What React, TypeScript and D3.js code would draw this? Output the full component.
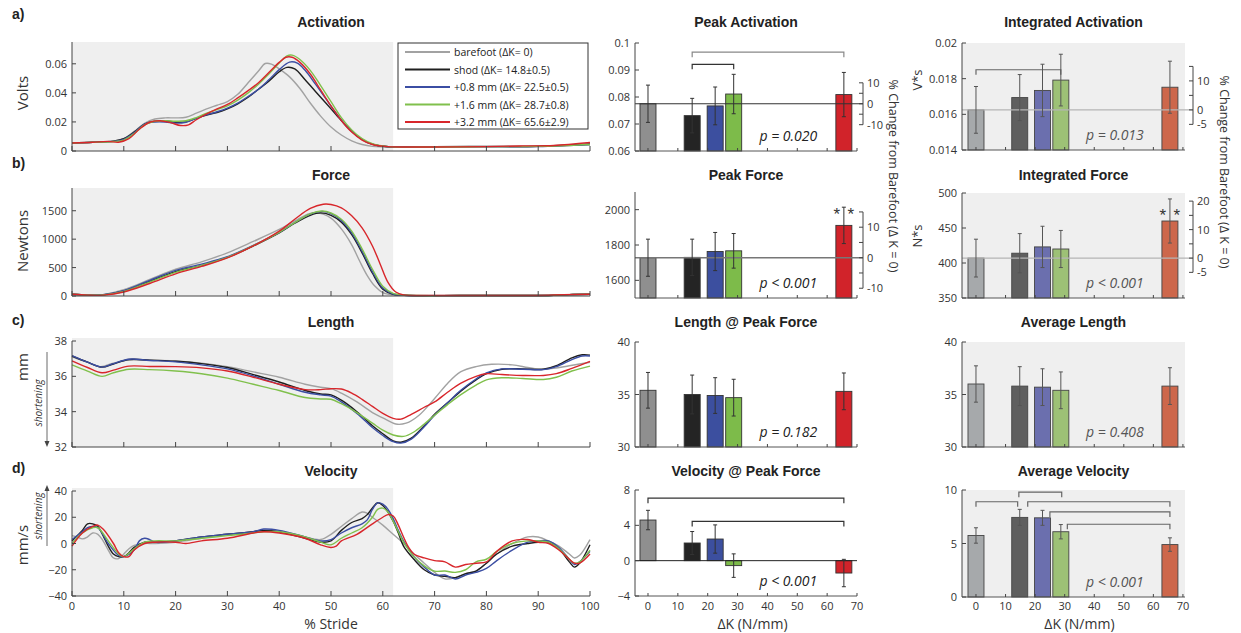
import React, { useEffect } from "react";
import * as d3 from "d3";

type Pt = [number, number];

// ---------- shared categories ----------
const legendLabels = [
  "barefoot (ΔK= 0)",
  "shod (ΔK= 14.8±0.5)",
  "+0.8 mm (ΔK= 22.5±0.5)",
  "+1.6 mm (ΔK= 28.7±0.8)",
  "+3.2 mm (ΔK= 65.6±2.9)",
];
const deltaK = [0, 14.8, 22.5, 28.7, 65.6];
const strideTicks = [0, 10, 20, 30, 40, 50, 60, 70, 80, 90, 100];
const dkTicks = [0, 10, 20, 30, 40, 50, 60, 70];
const stanceEnd = 62;

const lineColors = ["#a2a2a2", "#1f1f1f", "#3b4ea3", "#80c04c", "#d8262b"];
const midBarColors = ["#8f8f8f", "#242424", "#3c4f9f", "#7dbb4a", "#d1232a"];
const rightBarColors = ["#a6a9ab", "#5f5f5f", "#6b6fae", "#9dc176", "#cd674b"];

// ---------- time series: Activation (V) ----------
const actBarefoot: Pt[] = [[0,0.0055],[4,0.006],[8,0.0068],[10,0.0085],[12,0.0135],[14,0.019],[16,0.022],[18,0.0228],[20,0.0228],[22,0.0232],[24,0.026],[26,0.029],[28,0.0315],[30,0.034],[32,0.039],[34,0.047],[36,0.055],[37.3,0.0602],[38.5,0.0598],[40,0.0565],[42,0.051],[44,0.043],[46,0.033],[48,0.024],[50,0.0165],[52,0.011],[54,0.007],[56,0.0045],[58,0.0032],[62,0.0026],[70,0.0028],[80,0.003],[90,0.0032],[100,0.0042]];
const actShod: Pt[] = [[0,0.0055],[4,0.006],[8,0.0068],[10,0.0085],[12,0.013],[14,0.0185],[16,0.0205],[18,0.0208],[20,0.0198],[22,0.02],[24,0.0225],[26,0.0248],[28,0.0265],[30,0.029],[32,0.0325],[34,0.037],[36,0.0425],[38,0.048],[40,0.0545],[41.5,0.0575],[43,0.0565],[45,0.049],[47,0.041],[49,0.033],[51,0.025],[53,0.017],[55,0.0105],[57,0.006],[59,0.0038],[62,0.0028],[70,0.003],[80,0.0031],[90,0.0032],[100,0.0048]];
const actPlus08: Pt[] = [[0,0.0055],[4,0.006],[8,0.0066],[10,0.008],[12,0.0125],[14,0.0185],[16,0.02],[18,0.02],[20,0.0192],[22,0.0198],[24,0.0225],[26,0.025],[28,0.027],[30,0.0295],[32,0.033],[34,0.0375],[36,0.0425],[38,0.049],[40,0.056],[42,0.0612],[43.5,0.0605],[45,0.0555],[47,0.046],[49,0.036],[51,0.026],[53,0.017],[55,0.0105],[57,0.006],[59,0.0038],[62,0.0028],[70,0.003],[80,0.003],[90,0.0031],[100,0.0045]];
const actPlus16: Pt[] = [[0,0.0055],[4,0.006],[8,0.0065],[10,0.0075],[12,0.012],[14,0.018],[16,0.0205],[18,0.0208],[20,0.0205],[22,0.0208],[24,0.023],[26,0.026],[28,0.0285],[30,0.031],[32,0.035],[34,0.04],[36,0.046],[38,0.053],[40,0.0605],[41.5,0.0655],[42.5,0.066],[44,0.063],[46,0.0555],[48,0.045],[50,0.034],[52,0.023],[54,0.0145],[56,0.0085],[58,0.005],[61,0.003],[70,0.0028],[80,0.003],[90,0.0032],[100,0.0045]];
const actPlus32: Pt[] = [[0,0.0055],[4,0.006],[7,0.0066],[9,0.006],[11,0.0085],[13,0.015],[15,0.0198],[17,0.0208],[19,0.0195],[21,0.0175],[22.5,0.018],[24,0.0215],[26,0.0255],[28,0.029],[30,0.032],[32,0.0365],[34,0.0415],[36,0.047],[38,0.054],[40,0.061],[41.3,0.0645],[42.5,0.0645],[44,0.061],[46,0.053],[48,0.042],[50,0.031],[52,0.021],[54,0.013],[56,0.0075],[58,0.0045],[61,0.003],[70,0.0028],[80,0.003],[87,0.0035],[93,0.0038],[100,0.0058]];

// ---------- time series: Force (N) ----------
const forceBarefoot: Pt[] = [[0,30],[3,15],[6,25],[10,110],[15,290],[20,470],[25,600],[30,760],[35,960],[40,1170],[43,1320],[45.5,1440],[47,1470],[48.5,1440],[50,1370],[52,1180],[54,900],[55.5,620],[57,360],[58.5,170],[60,60],[62,20],[65,10],[75,8],[85,8],[92,10],[96,25],[100,30]];
const forceShod: Pt[] = [[0,30],[3,15],[6,20],[10,90],[15,260],[20,430],[25,540],[30,680],[35,880],[40,1110],[43,1280],[46,1420],[48,1462],[50,1420],[52,1300],[54,1080],[56,760],[58,400],[60,120],[62,30],[65,10],[75,8],[85,8],[92,10],[96,25],[100,30]];
const forcePlus08: Pt[] = [[0,30],[3,15],[6,22],[10,95],[15,275],[20,450],[25,560],[30,690],[35,890],[40,1120],[43,1290],[46,1440],[48.3,1488],[50,1450],[52,1330],[54,1110],[56,790],[58,430],[60,140],[62,35],[65,10],[75,8],[85,8],[92,10],[96,25],[100,30]];
const forcePlus16: Pt[] = [[0,30],[3,15],[6,18],[10,80],[15,245],[20,415],[25,540],[30,680],[35,885],[40,1120],[43,1290],[46,1445],[48.3,1495],[50,1460],[52,1350],[54,1140],[56,830],[58,470],[60,170],[62,45],[65,12],[75,8],[85,8],[92,10],[96,25],[100,30]];
const forcePlus32: Pt[] = [[0,30],[3,15],[6,15],[10,70],[15,220],[20,390],[25,520],[30,670],[35,880],[40,1140],[43,1350],[46,1540],[48.5,1615],[50,1610],[52,1550],[54,1410],[56,1200],[58,880],[59.5,560],[61,240],[62.5,70],[64,20],[70,10],[80,8],[90,10],[95,22],[100,30]];

// ---------- time series: Length (mm) ----------
const lenBarefoot: Pt[] = [[0,37.1],[3,36.8],[5.5,36.55],[8,36.75],[11,36.92],[15,36.92],[20,36.87],[25,36.75],[30,36.55],[35,36.25],[40,35.95],[45,35.55],[48,35.38],[50,35.3],[52,35.05],[55,34.55],[58,33.95],[60,33.65],[62.5,33.3],[64.5,33.35],[67,33.8],[70,34.75],[72.5,35.6],[75,36.25],[78,36.55],[81,36.68],[85,36.65],[88,36.5],[90,36.42],[93,36.45],[96,36.6],[100,36.8]];
const lenShod: Pt[] = [[0,37.15],[3,36.8],[5.8,36.52],[8,36.7],[11,36.95],[15,36.92],[20,36.85],[25,36.72],[30,36.5],[35,36.1],[40,35.68],[45,35.2],[48,35.0],[50,34.95],[52,34.65],[55,34.0],[58,33.2],[60,32.75],[62,32.35],[63.5,32.27],[65.5,32.5],[68,33.2],[70,33.85],[72.5,34.5],[75,35.15],[78,35.8],[80,36.15],[83,36.4],[87,36.42],[91,36.4],[93.5,36.6],[96.5,37.05],[98.5,37.22],[100,37.2]];
const lenPlus08: Pt[] = [[0,37.17],[3,36.8],[5.8,36.52],[8,36.72],[11,36.97],[15,36.9],[20,36.82],[25,36.65],[30,36.42],[35,36.02],[40,35.55],[45,35.1],[48,34.95],[50,34.88],[52,34.55],[55,33.9],[58,33.1],[60,32.65],[62,32.3],[63.5,32.22],[65.5,32.45],[68,33.15],[70,33.8],[72.5,34.5],[75,35.2],[78,35.85],[80,36.2],[83,36.42],[87,36.4],[91,36.38],[93.5,36.55],[96.5,36.95],[98.5,37.15],[100,37.15]];
const lenPlus16: Pt[] = [[0,36.65],[3,36.3],[5.8,36.0],[8,36.2],[11,36.4],[15,36.38],[20,36.3],[25,36.15],[30,35.9],[35,35.55],[40,35.2],[45,34.8],[48,34.72],[50,34.7],[52,34.45],[55,33.95],[58,33.35],[60,32.95],[62,32.68],[64,32.6],[66,32.85],[68,33.3],[70,33.8],[72.5,34.4],[75,34.95],[78,35.5],[80,35.8],[83,35.92],[87,35.88],[91,35.82],[93.5,35.95],[96.5,36.3],[100,36.58]];
const lenPlus32: Pt[] = [[0,36.88],[3,36.5],[5.8,36.2],[8,36.35],[11,36.58],[15,36.56],[20,36.55],[25,36.48],[30,36.3],[35,35.95],[40,35.55],[45,35.25],[48,35.25],[50,35.3],[52,35.28],[54,35.05],[56,34.7],[58,34.3],[60,33.9],[62,33.62],[63.5,33.58],[65.5,33.85],[68,34.25],[70,34.55],[72.5,35.1],[75,35.6],[78,36.0],[80,36.15],[83,36.1],[87,36.05],[91,36.05],[93.5,36.15],[96.5,36.45],[100,36.85]];

// ---------- time series: Velocity (mm/s) ----------
const velBarefoot: Pt[] = [[0,6],[1,5],[2,3.5],[3,5],[4,8],[5,7],[6,2],[7,-5],[8,-11],[9,-11.5],[10,-8],[11,-4],[12,-1.5],[14,0],[16,0],[20,1],[25,4],[30,7],[35,9],[37,10],[40,9],[43,7],[45,5],[48,3],[50,7],[52,13],[54,19],[56,24],[57,23],[58,20],[60,14],[62,7],[64,0],[66,-8],[68,-15],[70,-22],[72,-27],[74,-26],[76,-23],[78,-21],[80,-15],[82,-8],[85,0],[88,5],[90,5],[92,2],[94,-2],[96,-8],[97,-11],[98,-9],[100,3]];
const velShod: Pt[] = [[0,2],[2,10],[3,15],[4,15],[5,13],[6,6],[7,-2],[8,-8],[9,-10],[10,-10],[11,-7],[12,-3],[14,1],[16,1],[20,2],[25,5],[30,7],[35,9],[37,10],[40,9],[43,6],[45,4],[48,1],[50,2],[52,10],[54,16],[56,19],[57,22],[58,27],[59,31],[60,29],[61,24],[62,17],[63,8],[64,-2],[66,-12],[68,-20],[70,-24],[72,-25],[74,-26],[76,-23],[78,-21],[80,-15],[82,-8],[85,-2],[88,0],[90,1],[92,1],[94,-4],[96,-14],[97,-18],[98,-15],[100,-1]];
const velPlus08: Pt[] = [[0,3],[2,9],[3,12],[4,13],[5,12],[7,0],[9,-9],[10,-10],[12,-5],[13,2],[14,4],[15,3],[16,1],[20,2],[25,5],[30,7],[35,9],[37,11],[40,10],[45,5],[48,2],[50,3],[52,8],[54,12],[56,15],[57,18],[58,26],[59,31],[60,30],[61,26],[62,19],[63,10],[64,2],[66,-10],[68,-18],[70,-24],[72,-24],[74,-27],[76,-24],[78,-22],[80,-19],[82,-13],[85,-5],[88,1],[90,2],[92,2],[94,-3],[96,-12],[97,-16],[98,-14],[100,-6]];
const velPlus16: Pt[] = [[0,0],[2,8],[4,12],[5,12],[7,2],[9,-8],[10,-10],[12,-4],[14,1],[16,2],[20,2],[25,4],[30,6],[35,8],[37,9],[40,9],[45,5],[48,1],[50,-1],[52,4],[54,8],[56,12],[58,20],[59,26],[60,27],[61,24],[62,17],[63,9],[64,1],[66,-10],[68,-17],[70,-21],[72,-21],[74,-22],[76,-20],[78,-14],[80,-12],[82,-6],[85,0],[88,2],[90,2],[92,1],[94,-4],[96,-12],[97,-15],[98,-14],[100,-5]];
const velPlus32: Pt[] = [[0,-2],[2,8],[4,13],[5,14],[6,11],[8,0],[9,-7],[10,-10],[11,-10],[12,-5],[14,0],[16,1],[20,1],[22,0],[25,2],[30,4],[35,8],[37,9],[40,8],[45,4],[48,-1],[50,-3],[51,-2],[52,2],[55,7],[58,15],[60,20],[61,22],[62,21],[63,14],[64,5],[65,-3],[66,-8],[68,-11],[70,-13],[72,-14],[74,-18],[76,-16],[78,-15],[80,-14],[82,-6],[85,2],[88,3],[90,1],[92,0],[94,-5],[96,-12],[97,-15],[98,-15],[100,-8]];

// ---------- left axis ticks ----------
const actTicks = [0, 0.02, 0.04, 0.06];
const actTickLabels = ["0", "0.02", "0.04", "0.06"];
const forceTicks = [0, 500, 1000, 1500];
const forceTickLabels = ["0", "500", "1000", "1500"];
const lenTicks = [32, 34, 36, 38];
const lenTickLabels = ["32", "34", "36", "38"];
const velTicks = [-40, -20, 0, 20, 40];
const velTickLabels = ["\u221240", "\u221220", "0", "20", "40"];

// ---------- bar summaries (mean, sd) ----------
const peakActMean = [0.0775, 0.0731, 0.0767, 0.0811, 0.0809];
const peakActSd = [0.0069, 0.0064, 0.0070, 0.0073, 0.0082];
const peakForceMean = [1728, 1730, 1763, 1767, 1911];
const peakForceSd = [105, 103, 108, 98, 103];
const lenPeakMean = [35.4, 35.0, 34.9, 34.7, 35.3];
const lenPeakSd = [1.7, 1.85, 1.7, 1.75, 1.75];
const velPeakMean = [4.6, 2.0, 2.45, -0.56, -1.4];
const velPeakSd = [1.1, 1.3, 1.6, 1.33, 1.55];
const intActMean = [0.01625, 0.01694, 0.01734, 0.01792, 0.01752];
const intActSd = [0.00131, 0.00129, 0.00147, 0.00145, 0.00146];
const intForceMean = [407, 414, 423, 420, 460];
const intForceSd = [27, 28, 29.5, 26.5, 31.5];
const avgLenMean = [36.0, 35.8, 35.7, 35.4, 35.8];
const avgLenSd = [1.73, 1.85, 1.75, 1.75, 1.75];
const avgVelMean = [5.75, 7.44, 7.4, 6.1, 4.9];
const avgVelSd = [0.72, 0.75, 0.7, 0.67, 0.63];

// brackets: [fromK, toK, level]
const peakActBrackets: number[][] = [[14.8, 65.6, 0.0966], [14.8, 28.7, 0.0921]];
const velPeakBrackets: number[][] = [[0, 65.6, 7.07], [14.8, 65.6, 4.44]];
const intActBrackets: number[][] = [[0, 28.7, 0.0185]];
const avgVelBrackets: number[][] = [[0, 14.1, 8.9], [14.5, 29, 9.8], [17.5, 65.6, 8.9], [25, 65.6, 7.95], [30.9, 65.6, 6.8]];

const pValues = ["p = 0.020", "p < 0.001", "p = 0.182", "p < 0.001", "p = 0.013", "p < 0.001", "p = 0.408", "p < 0.001"];

// percent-change axes
const pctActMid = { min: -10, max: 10, ticks: [-10, -5, 0, 5, 10], labels: [-10, 0, 10] };
const pctForceMid = { min: -10, max: 15, ticks: [-10, -5, 0, 5, 10, 15], labels: [-10, 0, 10] };
const pctActRight = { min: -5, max: 15, ticks: [-5, 0, 5, 10, 15], labels: [-5, 0, 10] };
const pctForceRight = { min: -5, max: 20, ticks: [-5, 0, 5, 10, 15, 20], labels: [-5, 0, 10, 20] };

const FONT = "'Open Sans', 'Liberation Sans', sans-serif";
const TFONT = "'Liberation Sans', Arial, sans-serif";

const LX0 = 72, LX1 = 590;
const XTICK_Y = 610;
const XLABEL_Y = 628.5;

function fmtPct(v: number) {
  return v < 0 ? "-" + Math.abs(v) : String(v);
}

function TimePanel(p: {
  top: number; bottom: number; bgTop: number; domain: [number, number];
  ticks: number[]; tickLabels: string[]; series: Pt[][];
  title: string; titleY: number; letter: string; letterY: number;
  ylabel: string; ylabelY: number; showX: boolean;
}) {
  const x = d3.scaleLinear().domain([0, 100]).range([LX0, LX1]);
  const y = d3.scaleLinear().domain(p.domain).range([p.bottom, p.top]);
  const line = d3.line<Pt>().x(d => x(d[0])).y(d => y(d[1])).curve(d3.curveCatmullRom.alpha(0.5));
  return (
    <g>
      <text x={12} y={p.letterY} fontFamily={TFONT} fontWeight="bold" fontSize={14} fill="#222">{p.letter}</text>
      <text x={(LX0 + LX1) / 2} y={p.titleY} textAnchor="middle" fontFamily={TFONT} fontWeight="bold" fontSize={14} fill="#222">{p.title}</text>
      <rect x={x(0)} y={p.bgTop} width={x(stanceEnd) - x(0)} height={p.bottom - p.bgTop} fill="#efefef" />
      {p.series.map((s, i) => (
        <path key={i} d={line(s) || ""} fill="none" stroke={lineColors[i]} strokeWidth={1.4} />
      ))}
      <line x1={LX0} x2={LX0} y1={p.top} y2={p.bottom} stroke="#444" strokeWidth={1} />
      <line x1={LX0} x2={LX1} y1={p.bottom} y2={p.bottom} stroke="#444" strokeWidth={1} />
      {p.ticks.map((t, i) => (
        <g key={i}>
          <line x1={LX0} x2={LX0 + 4} y1={y(t)} y2={y(t)} stroke="#444" />
          <text x={LX0 - 5} y={y(t) + 4} textAnchor="end" fontFamily={FONT} fontSize={11} fill="#333">{p.tickLabels[i]}</text>
        </g>
      ))}
      {strideTicks.map((t, i) => (
        <g key={i}>
          <line x1={x(t)} x2={x(t)} y1={p.bottom} y2={p.bottom - 5} stroke="#444" />
          {p.showX && (
            <text x={x(t)} y={XTICK_Y} textAnchor="middle" fontFamily={FONT} fontSize={11} fill="#333">{t}</text>
          )}
        </g>
      ))}
      <text transform={`translate(28,${p.ylabelY}) rotate(-90)`} textAnchor="middle" fontFamily={FONT} fontSize={15} fill="#333">{p.ylabel}</text>
    </g>
  );
}

type PctAxis = { min: number; max: number; ticks: number[]; labels: number[] };

function BarPanel(p: {
  x0: number; x1: number; kDomain: [number, number];
  top: number; bottom: number; domain: [number, number];
  ticks: number[]; tickLabels: string[];
  means: number[]; sds: number[]; colors: string[];
  bg: boolean; base: number;
  refLine?: { color: string; width: number };
  zeroLine?: boolean;
  pct?: PctAxis; pctX?: number;
  brackets?: number[][]; bracketColors?: string[];
  pText: string; pColor: string;
  stars?: number; starLevel?: number;
  title: string; titleY: number; showX: boolean;
  strokeColor: string; errColor: string;
}) {
  const x = d3.scaleLinear().domain(p.kDomain).range([p.x0, p.x1]);
  const y = d3.scaleLinear().domain(p.domain).range([p.bottom, p.top]);
  const bw = 16;
  const ref = p.means[0];
  const pctY = (v: number) => y(ref * (1 + v / 100));
  return (
    <g>
      <text x={(p.x0 + p.x1) / 2} y={p.titleY} textAnchor="middle" fontFamily={TFONT} fontWeight="bold" fontSize={14} fill="#222">{p.title}</text>
      {p.bg && <rect x={p.x0} y={p.top} width={p.x1 - p.x0} height={p.bottom - p.top} fill="#efefef" />}
      {p.brackets && p.brackets.map((b, i) => (
        <path key={i} d={`M${x(b[0])},${y(b[2]) + 5}V${y(b[2])}H${x(b[1])}V${y(b[2]) + 5}`} fill="none" stroke={p.bracketColors ? p.bracketColors[i] : "#555"} strokeWidth={1.2} />
      ))}
      {p.means.map((m, i) => {
        const cx = x(deltaK[i]);
        const yt = y(Math.max(m, p.base));
        const yb = y(Math.min(m, p.base));
        return (
          <rect key={i} x={cx - bw / 2} y={yt} width={bw} height={Math.max(0, yb - yt)} fill={p.colors[i]} stroke={p.strokeColor} strokeWidth={0.9} />
        );
      })}
      {p.refLine && (
        <line x1={p.x0} x2={p.pctX ?? p.x1} y1={y(ref)} y2={y(ref)} stroke={p.refLine.color} strokeWidth={p.refLine.width} />
      )}
      {p.zeroLine && <line x1={p.x0} x2={p.x1} y1={y(0)} y2={y(0)} stroke="#222" strokeWidth={1} />}
      {p.means.map((m, i) => {
        const cx = x(deltaK[i]);
        const hi = m + p.sds[i];
        const lo = Math.max(m - p.sds[i], p.domain[0]);
        return (
          <g key={i} stroke={p.errColor} strokeWidth={1}>
            <line x1={cx} x2={cx} y1={y(hi)} y2={y(lo)} />
            <line x1={cx - 2} x2={cx + 2} y1={y(hi)} y2={y(hi)} />
            <line x1={cx - 2} x2={cx + 2} y1={y(lo)} y2={y(lo)} />
          </g>
        );
      })}
      {p.stars !== undefined && p.starLevel !== undefined && (
        <g fontFamily={TFONT} fontSize={17} fill="#333" textAnchor="middle">
          <text x={x(deltaK[p.stars]) - 7} y={y(p.starLevel) + 10}>*</text>
          <text x={x(deltaK[p.stars]) + 7} y={y(p.starLevel) + 10}>*</text>
        </g>
      )}
      <line x1={p.x0} x2={p.x0} y1={p.top} y2={p.bottom} stroke="#444" />
      <line x1={p.x0} x2={p.x1} y1={p.bottom} y2={p.bottom} stroke="#555" />
      {p.ticks.map((t, i) => (
        <g key={i}>
          <line x1={p.x0} x2={p.x0 + 4} y1={y(t)} y2={y(t)} stroke="#444" />
          <text x={p.x0 - 5} y={y(t) + 4} textAnchor="end" fontFamily={FONT} fontSize={11} fill="#333">{p.tickLabels[i]}</text>
        </g>
      ))}
      {dkTicks.map((t, i) => (
        <g key={i}>
          <line x1={x(t)} x2={x(t)} y1={p.bottom} y2={p.bottom - 3} stroke="#444" />
          {p.showX && (
            <text x={x(t)} y={XTICK_Y} textAnchor="middle" fontFamily={FONT} fontSize={11} fill="#333">{t}</text>
          )}
        </g>
      ))}
      {p.showX && (
        <text x={x(35)} y={XLABEL_Y} textAnchor="middle" fontFamily={FONT} fontSize={14} fill="#333">ΔK (N/mm)</text>
      )}
      <text x={x(47)} y={p.bottom - 10} textAnchor="middle" fontFamily={FONT} fontStyle="italic" fontSize={14} fill={p.pColor}>{p.pText}</text>
      {p.pct && p.pctX !== undefined && (
        <g>
          <line x1={p.pctX} x2={p.pctX} y1={pctY(p.pct.max)} y2={pctY(p.pct.min)} stroke="#444" />
          {p.pct.ticks.map((t, i) => (
            <line key={i} x1={p.pctX! - 4} x2={p.pctX} y1={pctY(t)} y2={pctY(t)} stroke="#444" />
          ))}
          {p.pct.labels.map((t, i) => (
            <text key={i} x={p.pctX! + 4} y={pctY(t) + 4} fontFamily={FONT} fontSize={11} fill="#333">{fmtPct(t)}</text>
          ))}
        </g>
      )}
    </g>
  );
}

export default function App() {
  useEffect(() => {
    document.body.style.margin = "0";
  }, []);
  const titleYs = [27, 180, 327, 476];
  const midK: [number, number] = [-4.35, 70];
  const rightK: [number, number] = [-4.73, 70.7];
  const MX0 = 635, MX1 = 857, RX0 = 962, RX1 = 1185;
  return (
    <svg width={1241} height={633} style={{ position: "absolute", left: 0, top: 0, background: "#fff" }}>
      {/* Left column */}
      <TimePanel top={42} bottom={151} bgTop={42} domain={[0, 0.075]} ticks={actTicks} tickLabels={actTickLabels}
        series={[actBarefoot, actShod, actPlus08, actPlus16, actPlus32]} title="Activation" titleY={titleYs[0]}
        letter="a)" letterY={19} ylabel="Volts" ylabelY={93} showX={false} />
      <TimePanel top={188} bottom={296} bgTop={188} domain={[0, 1900]} ticks={forceTicks} tickLabels={forceTickLabels}
        series={[forceBarefoot, forceShod, forcePlus08, forcePlus16, forcePlus32]} title="Force" titleY={titleYs[1]}
        letter="b)" letterY={168} ylabel="Newtons" ylabelY={241} showX={false} />
      <TimePanel top={341} bottom={447} bgTop={338} domain={[32, 38]} ticks={lenTicks} tickLabels={lenTickLabels}
        series={[lenBarefoot, lenShod, lenPlus08, lenPlus16, lenPlus32]} title="Length" titleY={titleYs[2]}
        letter="c)" letterY={325} ylabel="mm" ylabelY={367} showX={false} />
      <TimePanel top={491} bottom={596} bgTop={488} domain={[-40, 40]} ticks={velTicks} tickLabels={velTickLabels}
        series={[velBarefoot, velShod, velPlus08, velPlus16, velPlus32]} title="Velocity" titleY={titleYs[3]}
        letter="d)" letterY={473} ylabel="mm/s" ylabelY={545} showX={true} />
      <text x={(LX0 + LX1) / 2} y={XLABEL_Y} textAnchor="middle" fontFamily={FONT} fontSize={14} fill="#333">% Stride</text>

      {/* shortening annotations */}
      <text transform="translate(42,403) rotate(-90)" textAnchor="middle" fontFamily={FONT} fontStyle="italic" fontSize={10} fill="#333">shortening</text>
      <line x1={47} x2={47} y1={352} y2={444} stroke="#444" strokeWidth={0.8} />
      <path d="M44.5,441 L47,447 L49.5,441 Z" fill="#444" />
      <text transform="translate(42,516) rotate(-90)" textAnchor="middle" fontFamily={FONT} fontStyle="italic" fontSize={10} fill="#333">shortening</text>
      <line x1={47} x2={47} y1={488} y2={546} stroke="#444" strokeWidth={0.8} />
      <path d="M44.5,491 L47,485 L49.5,491 Z" fill="#444" />

      {/* Legend */}
      <rect x={398} y={43} width={190} height={86} fill="#fff" stroke="#333" strokeWidth={1} />
      {legendLabels.map((l, i) => (
        <g key={i}>
          <line x1={405} x2={450} y1={52 + i * 17.5} y2={52 + i * 17.5} stroke={lineColors[i]} strokeWidth={2} />
          <text x={454} y={56 + i * 17.5} fontFamily={FONT} fontSize={10.5} fill="#222">{l}</text>
        </g>
      ))}

      {/* Middle column */}
      <BarPanel x0={MX0} x1={MX1} kDomain={midK} top={43} bottom={151} domain={[0.06, 0.1]}
        ticks={[0.06, 0.07, 0.08, 0.09, 0.1]} tickLabels={["0.06", "0.07", "0.08", "0.09", "0.1"]}
        means={peakActMean} sds={peakActSd} colors={midBarColors} bg={false} base={0.06}
        refLine={{ color: "#333", width: 1 }} pct={pctActMid} pctX={863}
        brackets={peakActBrackets} bracketColors={["#888", "#333"]}
        pText={pValues[0]} pColor="#222" title="Peak Activation" titleY={titleYs[0]} showX={false}
        strokeColor="#333" errColor="#333" />
      <BarPanel x0={MX0} x1={MX1} kDomain={midK} top={192} bottom={298} domain={[1500, 2100]}
        ticks={[1600, 1800, 2000]} tickLabels={["1600", "1800", "2000"]}
        means={peakForceMean} sds={peakForceSd} colors={midBarColors} bg={false} base={1500}
        refLine={{ color: "#777", width: 1.5 }} pct={pctForceMid} pctX={863}
        stars={4} starLevel={2000}
        pText={pValues[1]} pColor="#222" title="Peak Force" titleY={titleYs[1]} showX={false}
        strokeColor="#333" errColor="#333" />
      <BarPanel x0={MX0} x1={MX1} kDomain={midK} top={342} bottom={447} domain={[30, 40]}
        ticks={[30, 35, 40]} tickLabels={["30", "35", "40"]}
        means={lenPeakMean} sds={lenPeakSd} colors={midBarColors} bg={false} base={30}
        pText={pValues[2]} pColor="#222" title="Length @ Peak Force" titleY={titleYs[2]} showX={false}
        strokeColor="#333" errColor="#333" />
      <BarPanel x0={MX0} x1={MX1} kDomain={midK} top={490} bottom={596} domain={[-4, 8]}
        ticks={[-4, 0, 4, 8]} tickLabels={["\u22124", "0", "4", "8"]}
        means={velPeakMean} sds={velPeakSd} colors={midBarColors} bg={false} base={0}
        zeroLine={true} brackets={velPeakBrackets} bracketColors={["#333", "#333"]}
        pText={pValues[3]} pColor="#222" title="Velocity @ Peak Force" titleY={titleYs[3]} showX={true}
        strokeColor="#333" errColor="#333" />
      <text transform="translate(889,176) rotate(90)" textAnchor="middle" fontFamily={FONT} fontSize={12.5} fill="#333">% Change from Barefoot (Δ K = 0)</text>

      {/* Right column */}
      <BarPanel x0={RX0} x1={RX1} kDomain={rightK} top={43} bottom={150} domain={[0.014, 0.02]}
        ticks={[0.014, 0.016, 0.018, 0.02]} tickLabels={["0.014", "0.016", "0.018", "0.02"]}
        means={intActMean} sds={intActSd} colors={rightBarColors} bg={true} base={0.014}
        refLine={{ color: "#b5b5b5", width: 1.2 }} pct={pctActRight} pctX={1193}
        brackets={intActBrackets} bracketColors={["#666"]}
        pText={pValues[4]} pColor="#555" title="Integrated Activation" titleY={titleYs[0]} showX={false}
        strokeColor="#444" errColor="#555" />
      <BarPanel x0={RX0} x1={RX1} kDomain={rightK} top={193} bottom={298} domain={[350, 500]}
        ticks={[350, 400, 450, 500]} tickLabels={["350", "400", "450", "500"]}
        means={intForceMean} sds={intForceSd} colors={rightBarColors} bg={true} base={350}
        refLine={{ color: "#b5b5b5", width: 1.2 }} pct={pctForceRight} pctX={1193}
        stars={4} starLevel={474}
        pText={pValues[5]} pColor="#555" title="Integrated Force" titleY={titleYs[1]} showX={false}
        strokeColor="#444" errColor="#555" />
      <BarPanel x0={RX0} x1={RX1} kDomain={rightK} top={342} bottom={447} domain={[30, 40]}
        ticks={[30, 35, 40]} tickLabels={["30", "35", "40"]}
        means={avgLenMean} sds={avgLenSd} colors={rightBarColors} bg={true} base={30}
        pText={pValues[6]} pColor="#555" title="Average Length" titleY={titleYs[2]} showX={false}
        strokeColor="#444" errColor="#555" />
      <BarPanel x0={RX0} x1={RX1} kDomain={rightK} top={490} bottom={597} domain={[0, 10]}
        ticks={[0, 5, 10]} tickLabels={["0", "5", "10"]}
        means={avgVelMean} sds={avgVelSd} colors={rightBarColors} bg={true} base={0}
        brackets={avgVelBrackets} bracketColors={["#666", "#666", "#666", "#666", "#666"]}
        pText={pValues[7]} pColor="#555" title="Average Velocity" titleY={titleYs[3]} showX={true}
        strokeColor="#444" errColor="#555" />
      <text transform="translate(1220,172) rotate(90)" textAnchor="middle" fontFamily={FONT} fontSize={12.5} fill="#333">% Change from Barefoot (Δ K = 0)</text>
      <text transform="translate(922,80) rotate(-90)" textAnchor="middle" fontFamily={FONT} fontSize={13} fill="#333">V*s</text>
      <text transform="translate(922,236) rotate(-90)" textAnchor="middle" fontFamily={FONT} fontSize={13} fill="#333">N*s</text>
    </svg>
  );
}
